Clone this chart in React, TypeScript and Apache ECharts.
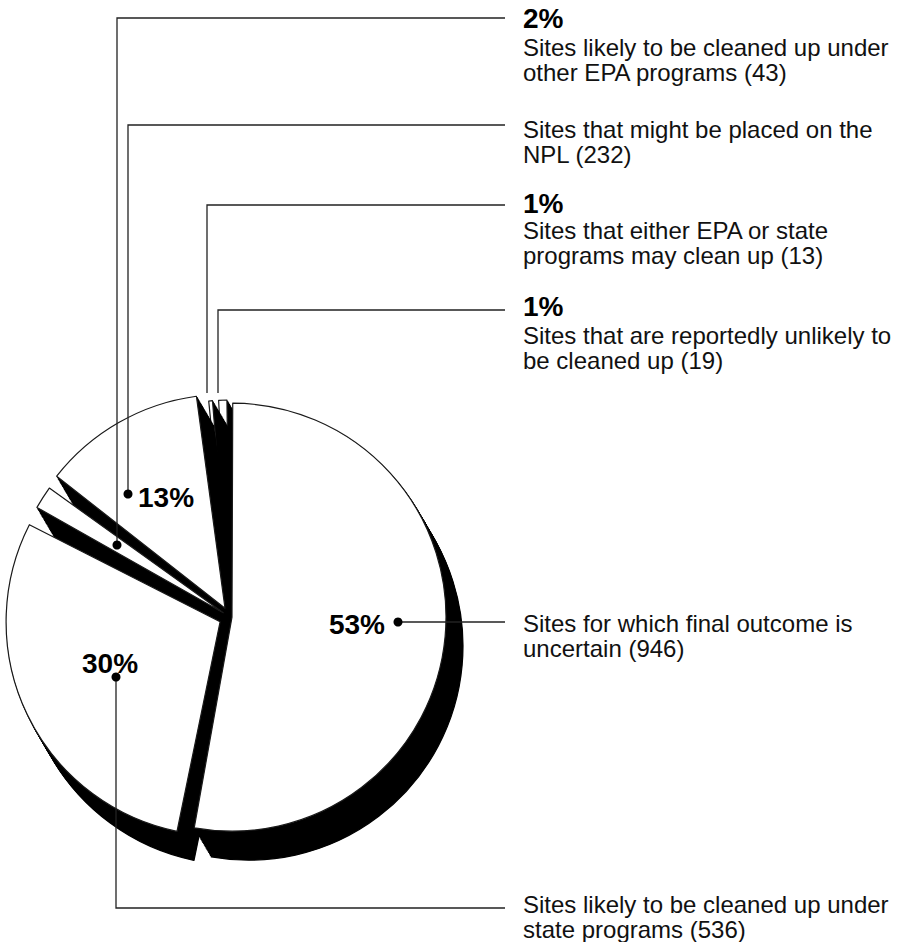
import React, { useEffect, useRef } from "react";
import * as echarts from "echarts";

// ---------- DATA ----------
const categoryLines: string[][] = [
  ["Sites for which final outcome is", "uncertain"],
  ["Sites likely to be cleaned up under", "state programs"],
  ["Sites likely to be cleaned up under", "other EPA programs"],
  ["Sites that might be placed on the", "NPL"],
  ["Sites that either EPA or state", "programs may clean up"],
  ["Sites that are reportedly unlikely to", "be cleaned up"],
];
const categories = categoryLines.map((l) => l.join(" "));
const siteCounts = [946, 536, 43, 232, 13, 19];
const showPercent = [true, true, true, true, true, true];

// ---------- LAYOUT / STYLE ----------
const W = 907;
const H = 942;
const PIE_CX = 230;
const PIE_CY = 617;
const PIE_R = 214;
const EXPLODE = [2, 11, 8, 10, 3, 3];
const PAD = [0.4, 2.5, 2.5, 2.5, 1.6, 1.6];
const DEPTH = [17, 29];
const STEPS = 20;
const DRAW_ORDER = [5, 4, 3, 2, 1, 0];
const TEXT_X = 523;
const LINE_GAP = 25;
const FONT = '"Liberation Sans", Arial, Helvetica, sans-serif';

type Ann = {
  leader: number[][];
  dot: boolean;
  pct: { x: number; y: number; align: string };
  textY: number;
};
const ANN: Ann[] = [
  { leader: [[398, 622], [505, 622]], dot: true, pct: { x: 385, y: 624, align: "right" }, textY: 623 },
  { leader: [[116, 677], [116, 908], [505, 908]], dot: true, pct: { x: 82, y: 663, align: "left" }, textY: 904 },
  { leader: [[117, 545], [117, 18], [505, 18]], dot: true, pct: { x: TEXT_X, y: 18, align: "left" }, textY: 47 },
  { leader: [[128, 494], [128, 125], [505, 125]], dot: true, pct: { x: 138, y: 497, align: "left" }, textY: 129 },
  { leader: [[207, 393], [207, 205], [505, 205]], dot: false, pct: { x: TEXT_X, y: 203, align: "left" }, textY: 230 },
  { leader: [[218, 393], [218, 310], [505, 310]], dot: false, pct: { x: TEXT_X, y: 306, align: "left" }, textY: 335 },
];

function buildOption() {
  const total = siteCounts.reduce((a, b) => a + b, 0);
  let cum = 0;
  const mids = siteCounts.map((v) => {
    const m = ((cum + v / 2) / total) * 2 * Math.PI;
    cum += v;
    return m;
  });

  const layer = (i: number, cx: number, cy: number, top: boolean) => ({
    type: "pie",
    radius: PIE_R,
    center: [cx, cy],
    startAngle: 90,
    clockwise: true,
    padAngle: PAD[i],
    silent: true,
    avoidLabelOverlap: false,
    label: { show: false },
    labelLine: { show: false },
    emphasis: { disabled: true },
    data: siteCounts.map((v, j) => ({
      value: v,
      name: categories[j],
      itemStyle:
        j === i
          ? top
            ? { color: "#ffffff", borderColor: "#1a1a1a", borderWidth: 1.2 }
            : { color: "#000000", borderColor: "#000000", borderWidth: 1.2 }
          : { color: "rgba(0,0,0,0)", borderColor: "rgba(0,0,0,0)", borderWidth: 0 },
    })),
  });

  const series: any[] = [];
  for (const i of DRAW_ORDER) {
    const dx = Math.sin(mids[i]) * EXPLODE[i];
    const dy = -Math.cos(mids[i]) * EXPLODE[i];
    for (let s = STEPS; s >= 1; s--) {
      const t = s / STEPS;
      series.push(layer(i, PIE_CX + dx + DEPTH[0] * t, PIE_CY + dy + DEPTH[1] * t, false));
    }
    series.push(layer(i, PIE_CX + dx, PIE_CY + dy, true));
  }

  const elements: any[] = [];
  siteCounts.forEach((v, i) => {
    const a = ANN[i];
    elements.push({
      type: "polyline",
      z: 100,
      shape: { points: a.leader },
      style: { stroke: "#222", lineWidth: 1.3, fill: null },
    });
    if (a.dot) {
      elements.push({
        type: "circle",
        z: 101,
        shape: { cx: a.leader[0][0], cy: a.leader[0][1], r: 4.5 },
        style: { fill: "#000" },
      });
    }
    if (showPercent[i]) {
      elements.push({
        type: "text",
        z: 102,
        style: {
          text: Math.round((v / total) * 100) + "%",
          x: a.pct.x,
          y: a.pct.y,
          fill: "#000",
          fontSize: 28,
          fontWeight: "bold",
          fontFamily: FONT,
          align: a.pct.align,
          verticalAlign: "middle",
        },
      });
    }
    const lines = categoryLines[i].slice();
    lines[lines.length - 1] = lines[lines.length - 1] + " (" + v + ")";
    lines.forEach((ln, k) => {
      elements.push({
        type: "text",
        z: 102,
        style: {
          text: ln,
          x: TEXT_X,
          y: a.textY + k * LINE_GAP,
          fill: "#111",
          fontSize: 24,
          fontFamily: FONT,
          align: "left",
          verticalAlign: "middle",
        },
      });
    });
  });

  return {
    animation: false,
    backgroundColor: "#ffffff",
    series,
    graphic: { elements },
  };
}

export default function App() {
  const ref = useRef<HTMLDivElement>(null);
  useEffect(() => {
    if (!ref.current) return;
    const chart = echarts.init(ref.current, null, { renderer: "svg" });
    chart.setOption(buildOption() as any);
    return () => chart.dispose();
  }, []);
  return (
    <div
      ref={ref}
      style={{ position: "absolute", left: 0, top: 0, width: W, height: H, background: "#fff" }}
    />
  );
}
